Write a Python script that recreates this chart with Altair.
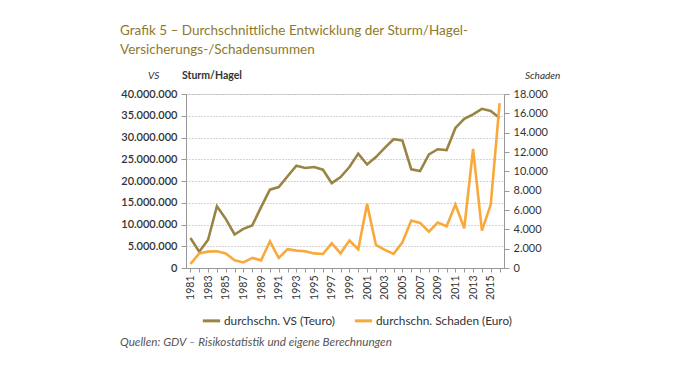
import altair as alt
import pandas as pd

years = list(range(1981, 2017))
vs = [6.9, 3.75, 6.5, 14.2, 11.3, 7.7, 9.0, 9.8, 14.0, 18.0, 18.6, 21.1, 23.5, 23.0,
      23.2, 22.6, 19.5, 20.9, 23.2, 26.3, 23.8, 25.5, 27.6, 29.6, 29.3, 22.7, 22.3,
      26.1, 27.3, 27.1, 32.2, 34.3, 35.3, 36.6, 36.1, 34.5]
vs = [v * 1_000_000 for v in vs]
schaden = [415, 1512, 1690, 1730, 1512, 790, 580, 1040, 790, 2760, 1040, 1950, 1800,
           1730, 1510, 1450, 2550, 1520, 2833, 1935, 6633, 2384, 1866, 1450, 2660, 4906,
           4664, 3766, 4700, 4318, 6564, 4111, 12334, 3870, 6564, 17067]

lab_vs = "durchschn. VS (Teuro)"
lab_sch = "durchschn. Schaden (Euro)"
col_vs = "#9a8444"
col_sch = "#f9a93b"

df = pd.DataFrame({"Jahr": years, "VS": vs, "Schaden": schaden})

FONT = "Lato"
W, H = 318, 174

xenc = alt.X("Jahr:O", scale=alt.Scale(type="point", padding=0.5),
             axis=alt.Axis(title=None, labelAngle=-90, labelAlign="right", labelBaseline="middle",
                           labelExpr="datum.value % 2 == 1 ? datum.label : ''",
                           labelFont=FONT, labelFontSize=10.5, labelColor="#333333",
                           domainColor="#999999", tickColor="#999999", tickSize=4,
                           labelPadding=3, grid=False))

cscale = alt.Scale(domain=[lab_vs, lab_sch], range=[col_vs, col_sch])
clegend = alt.Legend(title=None, orient="none", direction="horizontal",
                     legendX=15, legendY=216, symbolType="stroke",
                     symbolSize=300, symbolStrokeWidth=3,
                     labelFont=FONT, labelFontSize=11.8, labelColor="#333333",
                     columnPadding=12, labelOffset=2)
cenc = alt.Color("s:N", scale=cscale, legend=clegend)

de_expr = "replace(format(datum.value, ','), /,/g, '.')"

l_vs = alt.Chart(df).transform_calculate(s=f"'{lab_vs}'").mark_line(strokeWidth=2.6).encode(
    x=xenc,
    y=alt.Y("VS:Q", scale=alt.Scale(domain=[0, 40_000_000]),
            axis=alt.Axis(title=None, values=list(range(0, 40_000_001, 5_000_000)),
                          labelExpr=de_expr, labelFont=FONT, labelFontSize=11,
                          labelFontWeight=600, labelColor="#333333",
                          domainColor="#999999", tickColor="#999999", tickSize=5,
                          labelPadding=4,
                          grid=True, gridColor="#aaaaaa", gridDash=[1, 2], gridWidth=1)),
    color=cenc,
)

l_sch = alt.Chart(df).transform_calculate(s=f"'{lab_sch}'").mark_line(strokeWidth=2.6).encode(
    x=xenc,
    y=alt.Y("Schaden:Q", scale=alt.Scale(domain=[0, 18000]),
            axis=alt.Axis(title=None, orient="right", values=list(range(0, 18001, 2000)),
                          labelExpr=de_expr, labelFont=FONT, labelFontSize=11,
                          labelColor="#333333",
                          domainColor="#999999", tickColor="#999999", tickSize=5,
                          labelPadding=4, grid=False)),
    color=cenc,
)

chart_lines = alt.layer(l_vs, l_sch).resolve_scale(y="independent")


def txt(text, x, y, size=11, color="#333333", style="normal", weight="normal", align="left"):
    return alt.Chart(pd.DataFrame({"t": [text]})).mark_text(
        font=FONT, fontSize=size, color=color, fontStyle=style, fontWeight=weight,
        align=align, baseline="alphabetic").encode(
        text="t:N", x=alt.value(x), y=alt.value(y))


title_col = "#8c7a2c"
texts = [
    txt("Grafik 5 – Durchschnittliche Entwicklung der Sturm/Hagel-", -66, -59, size=13.5, color=title_col),
    txt("Versicherungs-/Schadensummen", -66, -40, size=13.5, color=title_col),
    txt("VS", -38, -15, size=10, style="italic"),
    txt("Sturm/Hagel", -4, -15, size=10.5, weight="bold"),
    txt("Schaden", 339, -15, size=10, style="italic"),
    txt("Quellen: GDV – Risikostatistik und eigene Berechnungen", -66, 252, size=11.7,
        color="#555555", style="italic"),
]

chart = alt.layer(chart_lines, *texts).properties(
    width=W, height=H,
    autosize=alt.AutoSizeParams(type="none"),
    padding={"left": 178, "top": 86, "right": 162, "bottom": 104},
).configure_view(stroke=None).configure(background="white")

chart.save("out.html", embed_options={"renderer": "svg", "actions": False})
